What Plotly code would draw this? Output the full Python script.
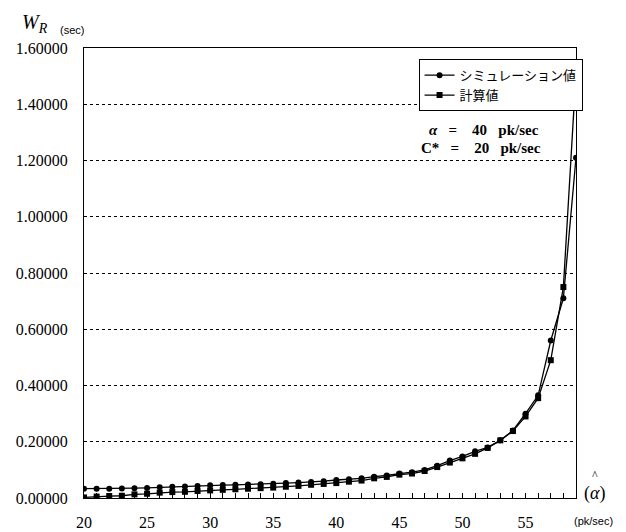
import plotly.graph_objects as go

alpha_hat = list(range(20, 60))
sim_values = [0.033, 0.033, 0.033, 0.034, 0.035, 0.036, 0.038, 0.040, 0.041, 0.043,
              0.045, 0.046, 0.047, 0.048, 0.049, 0.051, 0.053, 0.055, 0.057, 0.060,
              0.064, 0.067, 0.070, 0.076, 0.080, 0.087, 0.092, 0.100, 0.115, 0.133,
              0.148, 0.166, 0.180, 0.205, 0.240, 0.300, 0.365, 0.560, 0.710, 1.210]
calc_values = [0.002, 0.005, 0.007, 0.008, 0.013, 0.015, 0.019, 0.021, 0.022, 0.025,
               0.027, 0.029, 0.031, 0.033, 0.035, 0.037, 0.040, 0.043, 0.047, 0.050,
               0.053, 0.058, 0.062, 0.070, 0.075, 0.083, 0.087, 0.096, 0.110, 0.126,
               0.141, 0.157, 0.178, 0.205, 0.238, 0.290, 0.355, 0.490, 0.750, 1.510]
x_tick_vals = alpha_hat
x_tick_text = [str(v) if v % 5 == 0 else "" for v in alpha_hat]
y_tick_vals = [0.0, 0.2, 0.4, 0.6, 0.8, 1.0, 1.2, 1.4, 1.6]
series_names = ["シミュレーション値", "計算値"]

serif = "Liberation Serif"
jp = "Noto Sans CJK JP"
sans = "Liberation Sans"
NB = "\u00a0"

fig = go.Figure()
fig.add_trace(go.Scatter(x=alpha_hat, y=sim_values, mode="lines+markers", name=series_names[0],
                         line=dict(color="black", width=1.3),
                         marker=dict(symbol="circle", size=6, color="black")))
fig.add_trace(go.Scatter(x=alpha_hat, y=calc_values, mode="lines+markers", name=series_names[1],
                         line=dict(color="black", width=1.3),
                         marker=dict(symbol="square", size=6, color="black")))

fig.update_layout(
    width=618, height=524,
    margin=dict(l=76, r=50, t=40, b=34),
    paper_bgcolor="white", plot_bgcolor="white",
    font=dict(family=serif, color="black"),
    showlegend=True,
    legend=dict(x=0.68, y=0.975, xanchor="left", yanchor="top",
                bordercolor="black", borderwidth=1, bgcolor="white",
                font=dict(family=jp, size=13, color="black"),
                tracegroupgap=0, itemwidth=30),
    xaxis=dict(range=[20, 59], tickvals=x_tick_vals, ticktext=x_tick_text,
               ticks="inside", ticklen=5, tickcolor="black", automargin=False,
               showline=True, linecolor="black", linewidth=1.2, mirror=True,
               showgrid=False, zeroline=False, ticklabelstandoff=10,
               tickfont=dict(family=serif, size=16, color="black")),
    yaxis=dict(range=[0, 1.6], tickvals=y_tick_vals, tickformat=".5f", automargin=False,
               ticks="", showline=True, linecolor="black", linewidth=1.2, mirror=True,
               showgrid=True, gridcolor="black", gridwidth=1, griddash="dot",
               zeroline=False, ticklabelstandoff=12,
               tickfont=dict(family=serif, size=16, color="black")),
)

fig.add_annotation(xref="paper", yref="y", x=0.697, y=1.31, xanchor="left", yanchor="middle",
                   text="<b><i>α</i>" + NB * 3 + "=" + NB * 4 + "40" + NB * 3 + "pk/sec</b>",
                   showarrow=False, font=dict(family=serif, size=15, color="black"))
fig.add_annotation(xref="paper", yref="y", x=0.68, y=1.245, xanchor="left", yanchor="middle",
                   text="<b>C*" + NB * 3 + "=" + NB * 4 + "20" + NB * 3 + "pk/sec</b>",
                   showarrow=False, font=dict(family=serif, size=15, color="black"))
fig.add_annotation(xref="paper", yref="paper", x=-0.13, y=1.055, xanchor="left", yanchor="middle",
                   text="<i>W</i><sub><i>R</i></sub>", showarrow=False,
                   font=dict(family=serif, size=20, color="black"))
fig.add_annotation(xref="paper", yref="paper", x=-0.053, y=1.04, xanchor="left", yanchor="middle",
                   text="(sec)", showarrow=False,
                   font=dict(family=sans, size=11, color="black"))
fig.add_annotation(xref="paper", yref="paper", x=1.037, y=0.009, xanchor="center", yanchor="middle",
                   text="(<i>α</i>)", showarrow=False,
                   font=dict(family=serif, size=18, color="black"))
fig.add_annotation(xref="paper", yref="paper", x=1.039, y=0.052, xanchor="center", yanchor="middle",
                   text="^", showarrow=False,
                   font=dict(family=serif, size=12, color="black"))
fig.add_annotation(xref="paper", yref="paper", x=1.035, y=-0.051, xanchor="center", yanchor="middle",
                   text="(pk/sec)", showarrow=False,
                   font=dict(family=sans, size=11, color="black"))

fig.write_html("out.html")
